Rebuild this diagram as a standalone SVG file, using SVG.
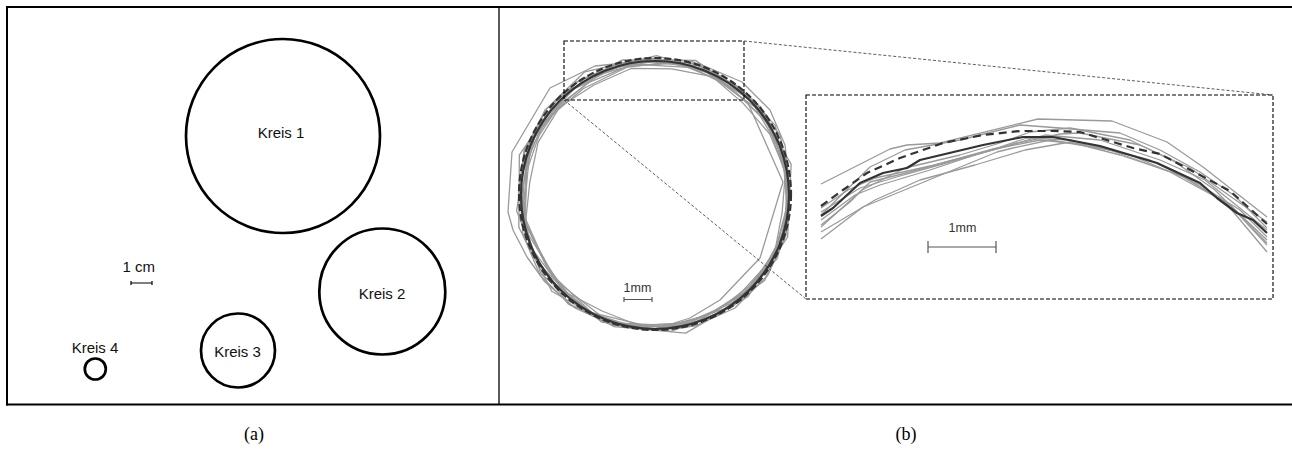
<svg xmlns="http://www.w3.org/2000/svg" xmlns:xlink="http://www.w3.org/1999/xlink" width="1292" height="451" viewBox="0 0 1292 451">
<style>
.frame{fill:none;stroke:#000;stroke-width:2}
.div{fill:none;stroke:#000;stroke-width:1.3}
.kreis{fill:none;stroke:#000;stroke-width:2.7}
.lbl{font-family:"Liberation Sans",Arial,sans-serif;font-size:15px;fill:#111;text-anchor:middle}
.mm{font-family:"Liberation Sans",Arial,sans-serif;font-size:12.5px;fill:#333;text-anchor:middle}
.cap{font-family:"Liberation Serif","Times New Roman",serif;font-size:18px;fill:#000;text-anchor:middle}
.bar{fill:none;stroke:#000;stroke-width:1.2}
.gbar{fill:none;stroke:#555;stroke-width:1.2}
.g{fill:none;stroke:#9a9a9a;stroke-width:1.3;stroke-linejoin:round}
.dk{fill:none;stroke:#333;stroke-width:2.2;stroke-linejoin:round}
.dd{fill:none;stroke:#333;stroke-width:2.2;stroke-dasharray:7 3}
.zr{fill:none;stroke:#000;stroke-width:1.1;stroke-dasharray:4 2}
.zl{fill:none;stroke:#333;stroke-width:0.8;stroke-dasharray:3 2}
</style>
<defs>
<polygon id="pA" points="136,0 122,50.5 95.5,95.5 50.1,121 0,134 -52.4,126.6 -93.3,93.3 -124.7,51.7 -133,0 -125.6,-52 -92.6,-92.6 -51.3,-123.8 0,-137 50.9,-122.9 95.5,-95.5 122,-50.5"/>
<polygon id="pB" points="133,0 129.3,42 108.4,78.8 76.4,105.2 41.7,128.4 0,133 -42.3,130.3 -77,106 -108.4,78.8 -129.3,42 -132,0 -128.4,-41.7 -107.6,-78.2 -80.5,-110.8 -40.8,-125.5 0,-134 42,-129.3 77,-106 109.2,-79.4 126.5,-41.1"/>
<polygon id="pC" points="137,0 116.9,67.5 69,119.5 0,134 -68.5,118.6 -117.8,68 -138,0 -116.9,-67.5 -68.5,-118.6 0,-139 68,-117.8 119.5,-69"/>
</defs>

<g id="frame">
<line class="frame" x1="6" y1="7" x2="1292" y2="7"/>
<line class="frame" x1="6" y1="404.5" x2="1292" y2="404.5"/>
<line class="frame" x1="7" y1="6" x2="7" y2="405.5"/>
<line class="div" x1="499" y1="7" x2="499" y2="404.5"/>
</g>

<g id="panel-a">
<g id="kreis1"><circle class="kreis" cx="283" cy="136" r="97"/><text class="lbl" x="281" y="138">Kreis 1</text></g>
<g id="kreis2"><circle class="kreis" cx="382.3" cy="291.5" r="63"/><text class="lbl" x="382" y="299">Kreis 2</text></g>
<g id="kreis3"><circle class="kreis" cx="238" cy="350.5" r="37"/><text class="lbl" x="237.5" y="357.3">Kreis 3</text></g>
<g id="kreis4"><circle class="kreis" cx="95.3" cy="369" r="10.5"/><text class="lbl" x="95" y="352.7">Kreis 4</text></g>
<g id="scale-cm">
<text class="lbl" x="138.8" y="271.7">1 cm</text>
<path class="bar" d="M131,283 H152 M131,281 V285 M152,281 V285"/>
</g>
</g>

<g id="panel-b">
<g id="traces">
<use xlink:href="#pA" class="g" transform="translate(655,195)"/>
<use xlink:href="#pA" class="g" transform="translate(656,196) rotate(11) scale(0.99)"/>
<use xlink:href="#pB" class="g" transform="translate(654,194) rotate(37) scale(1.01)"/>
<use xlink:href="#pB" class="g" transform="translate(655,196) rotate(5)"/>
<use xlink:href="#pC" class="g" transform="translate(656,195) rotate(50) scale(0.985)"/>
<use xlink:href="#pC" class="g" transform="translate(654,196) rotate(17) scale(1.02)"/>
<use xlink:href="#pA" class="g" transform="translate(655,194) rotate(73) scale(0.995)"/>
<use xlink:href="#pB" class="g" transform="translate(657,195) rotate(100)"/>
<use xlink:href="#pB" class="g" transform="translate(656,197) rotate(61) scale(0.97)"/>
<use xlink:href="#pA" class="g" transform="translate(654,194) rotate(128) scale(1.025)"/>
<polygon class="g" points="655,60 700,64 742,82 770,110 785,145 790,190 786,235 768,275 735,308 695,326 655,330 612,325 575,308 545,282 527,257 513,230 508,212 512,152 550,88 595,66"/>
<polygon class="g" points="655,61 700,66 748,103 783,182 760,258 720,300 690,318 655,329 610,324 570,305 540,275 523,235 520,195 525,150 545,110 580,80 615,65"/>
<circle class="dk" cx="655" cy="195" r="134"/>
<circle class="dd" cx="655" cy="194" r="136"/>
</g>
<g id="scale-mm-small">
<text class="mm" x="637.5" y="291.7">1mm</text>
<path class="gbar" d="M624,299.5 H652 M624,297 V302 M652,297 V302"/>
</g>

<g id="zoom-box">
<rect class="zr" x="564" y="41" width="180" height="59"/>
<rect class="zr" x="806" y="95" width="467" height="204"/>
</g>
<g id="connectors">
<line class="zl" x1="744" y1="41" x2="1273" y2="95"/>
<line class="zl" x1="564" y1="100" x2="806" y2="299"/>
</g>

<g id="zoom-traces">
<polyline class="g" points="821,184 890,149 907,145 940,143 1038,119 1112,121 1167,142 1203,167 1267,217"/>
<polyline class="g" points="821,239 863,207 997,152 1013,148 1050,140 1110,150 1170,172 1225,202 1267,252"/>
<polyline class="g" points="821,225 850,202 870,182 910,172 953,160 997,148 1027,138 1070,140 1130,155 1185,178 1230,205 1267,240"/>
<polyline class="g" points="821,220 855,195 880,185 930,170 990,150 1040,140 1090,145 1150,160 1200,185 1240,210 1267,237"/>
<polyline class="g" points="821,208 848,190 875,178 935,165 1000,148 1045,135 1100,140 1160,160 1205,180 1267,230"/>
<polyline class="g" points="821,227 862,190 905,168 960,155 1000,143 1030,132 1070,128 1130,140 1175,162 1215,190 1267,243"/>
<polyline class="g" points="821,232 875,200 920,180 975,165 1025,150 1070,142 1120,155 1180,175 1230,205 1267,245"/>
<polyline class="g" points="821,215 870,167 905,150 960,140 1020,125 1060,128 1120,133 1160,150 1200,172 1235,196 1267,228"/>
<polyline class="g" points="821,212 860,188 900,176 950,162 1010,145 1060,134 1080,133 1140,145 1190,168 1267,222"/>
<polyline class="dk" points="821,216 833,208 860,183 883,173 907,168 920,160 983,145 1023,137 1053,137 1100,146 1157,163 1200,183 1217,198 1237,213 1253,220 1267,233"/>
<polyline class="dd" style="stroke-dasharray:8 5" points="821,206 843,190 867,173 900,158 943,143 983,135 1020,131 1053,131 1080,132 1133,148 1160,154 1200,175 1230,191 1267,224"/>
</g>
<g id="scale-mm-large">
<text class="mm" x="962.5" y="231.7">1mm</text>
<path class="gbar" d="M928,247 H996 M928,241 V253 M996,241 V253"/>
</g>
</g>

<g id="captions">
<text class="cap" x="254" y="440">(a)</text>
<text class="cap" x="906" y="440">(b)</text>
</g>
</svg>
